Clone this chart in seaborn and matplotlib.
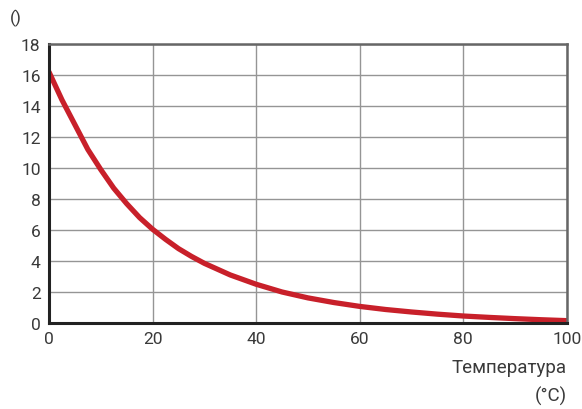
import matplotlib
matplotlib.use('Agg')
import matplotlib.pyplot as plt
import seaborn as sns
import pandas as pd

temperature = [0, 2.5, 5, 7.5, 10, 12.5, 15, 17.5, 20, 22.5, 25, 27.5,
               30, 35, 40, 45, 50, 55, 60, 65, 70, 75, 80, 85, 90, 95, 100]
values = [16.2, 14.4, 12.8, 11.2, 9.9, 8.7, 7.7, 6.8, 6.05, 5.4, 4.8, 4.3,
          3.85, 3.1, 2.5, 2.0, 1.62, 1.32, 1.07, 0.87, 0.71, 0.57, 0.45,
          0.36, 0.28, 0.21, 0.15]
x_ticks = [0, 20, 40, 60, 80, 100]
y_ticks = [0, 2, 4, 6, 8, 10, 12, 14, 16, 18]

df = pd.DataFrame({'temp': temperature, 'value': values})

sns.set_style("white")
plt.rcParams['font.family'] = ['Roboto', 'DejaVu Sans']

fig = plt.figure(figsize=(5.82, 4.10), dpi=100)
ax = fig.add_axes([0.0842, 0.2098, 0.8898, 0.6802])

sns.lineplot(data=df, x='temp', y='value', color='#c8202a',
             linewidth=3.8, ax=ax)

ax.set_xlim(0, 100)
ax.set_ylim(0, 18)
ax.set_xticks(x_ticks)
ax.set_yticks(y_ticks)
ax.grid(True, color='#959595', linewidth=1.0)
ax.set_axisbelow(True)
ax.set_xlabel('')
ax.set_ylabel('')

for side in ['left', 'bottom']:
    ax.spines[side].set_color('#222222')
    ax.spines[side].set_linewidth(2.2)
for side in ['top', 'right']:
    ax.spines[side].set_color('#666666')
    ax.spines[side].set_linewidth(1.8)

ax.tick_params(axis='both', direction='out', length=4, width=1,
               color='#555555', labelsize=12.5, labelcolor='#3a3a3a', pad=2)

fig.text(0.017, 0.955, '()', fontsize=12.5, color='#3a3a3a',
         ha='left', va='center')
fig.text(0.974, 0.102, 'Температура', fontsize=13.5, color='#3a3a3a',
         ha='right', va='center')
fig.text(0.974, 0.032, '(°C)', fontsize=13.5, color='#3a3a3a',
         ha='right', va='center')

fig.savefig('out.png', dpi=100)
